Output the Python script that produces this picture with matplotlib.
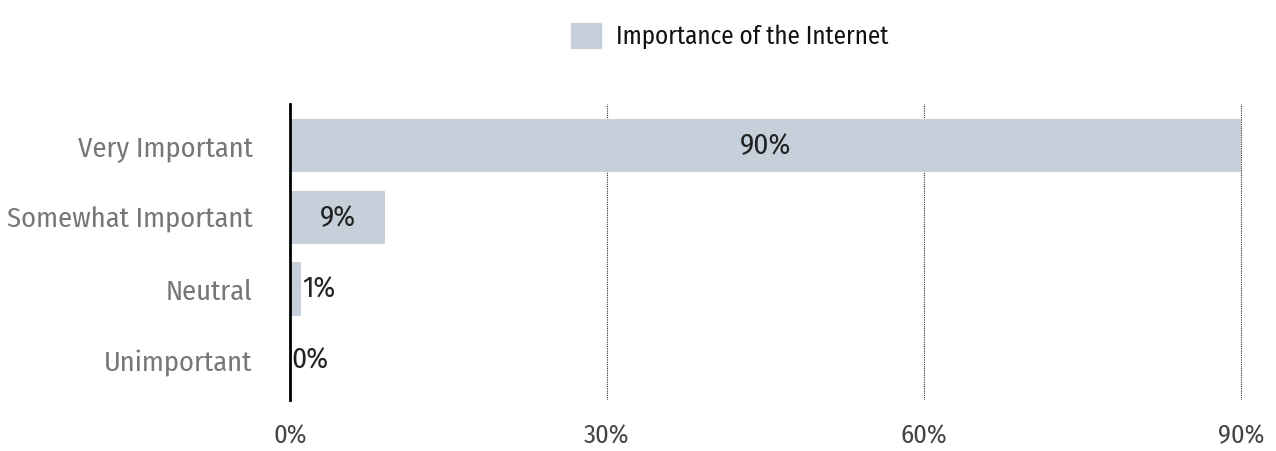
import matplotlib
matplotlib.use('Agg')
import matplotlib.pyplot as plt
from matplotlib.patches import Patch

categories = ['Very Important', 'Somewhat Important', 'Neutral', 'Unimportant']
values = [90, 9, 1, 0]
ticks = [0, 30, 60, 90]
series_name = 'Importance of the Internet'

bar_color = '#c5d0da'
plt.rcParams['font.family'] = ['Fira Sans Condensed', 'DejaVu Sans']

fig = plt.figure(figsize=(12.76, 4.51), dpi=100)
ax = fig.add_axes([0.2273, 0.113, 0.7477, 0.656])

ypos = list(range(len(categories)))
ax.barh(ypos, values, height=0.74, color=bar_color, zorder=2)

# value labels: centred in the bar, or just right of the axis for tiny bars
for y, v in zip(ypos, values):
    if v >= 5:
        ax.text(v / 2, y, f'{v}%', ha='center', va='center', fontsize=21, color='#222222')
    else:
        ax.text(v + 0.15, y, f'{v}%', ha='left', va='center', fontsize=21, color='#222222')

ax.set_xlim(0, 90.3)
ax.set_ylim(3.55, -0.58)
ax.set_yticks(ypos)
ax.set_yticklabels(categories, fontsize=20.5, color='#777777')
ax.set_xticks(ticks)
ax.set_xticklabels([f'{t}%' for t in ticks], fontsize=19, color='#444444')
ax.tick_params(length=0, axis='y', pad=27)
ax.tick_params(length=0, axis='x', pad=17)

for t in ticks[1:]:
    ax.axvline(t, color='#333333', linestyle=(0, (1, 1)), linewidth=0.8, zorder=1)

for s in ['top', 'right', 'bottom']:
    ax.spines[s].set_visible(False)
ax.spines['left'].set_linewidth(2)
ax.spines['left'].set_color('black')
ax.spines['left'].set_zorder(3)

fig.legend(handles=[Patch(color=bar_color, label=series_name)], loc='upper center',
           bbox_to_anchor=(0.572, 1.0), frameon=False, fontsize=18,
           handlelength=1.2, handleheight=1.2, handletextpad=0.6,
           labelcolor='#111111')

fig.savefig('out.png', dpi=100)
